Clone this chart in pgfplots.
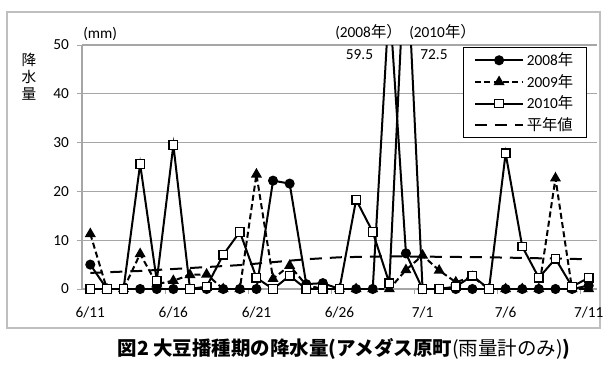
\documentclass[border=0pt]{standalone}
\usepackage{pgfplots}
\pgfplotsset{compat=1.18}
\usepackage{pgfplotstable}
\usepackage{fontspec}
\setmainfont{Carlito}
\newfontfamily\jp{Noto Sans CJK JP}
\definecolor{gridgray}{RGB}{166,166,166}
\definecolor{framegray}{RGB}{191,191,191}

\pgfplotstableread{
d y08 y09 y10
0 5.0 11.3 0
1 0 0 0
2 0 0 0
3 0 7.2 25.6
4 0 1.0 1.7
5 0 1.7 29.5
6 0 2.9 0
7 0 3.0 0.5
8 0 0 7.0
9 0 0 11.7
10 0 23.5 2.3
11 22.2 2.1 0
12 21.6 4.8 2.7
13 1.0 0.8 0
14 1.2 0 0
15 0 0 0
16 0 0 18.3
17 0 0 11.7
18 59.5 0 1.2
19 7.3 3.9 72.5
20 0 6.9 0
21 0 3.8 0
22 0 1.4 0.5
23 0 2.5 2.7
24 0 0 0
25 0 0 27.8
26 0 0 8.7
27 0 0 2.3
28 0 22.7 6.2
29 0 0 0.5
30 0.7 0 2.3
}\rain

\pgfplotstableread{
d n
0 3.3
3 3.7
6 4.3
9 4.9
11 5.5
13 6.1
15 6.5
18 6.7
21 6.6
24 6.5
27 6.3
30 6.1
}\normal

% image pixel (x, y from top) -> point
\def\P(#1,#2){({(#1)*0.75pt},{(372-(#2))*0.75pt})}

\begin{document}
\begin{tikzpicture}
\path[use as bounding box] \P(0,372) rectangle \P(606,0);
\draw[framegray, line width=0.9pt] \P(7,12) rectangle \P(600,328);
\begin{axis}[
  at={(67.725pt,62.25pt)}, anchor=origin,
  scale only axis, width=386.25pt, height=183pt,
  xmin=-0.5, xmax=30.5, ymin=0, ymax=50,
  axis lines*=left,
  axis line style={gridgray, line width=1pt},
  ytick={0,10,...,50},
  ymajorgrids,
  grid style={gridgray, line width=1pt},
  tick align=outside,
  major tick length=3.75pt,
  tick style={gridgray, line width=0.75pt},
  xtick={4.5,9.5,...,29.5},
  xticklabels={},
  extra x ticks={0,5,...,30},
  extra x tick labels={6/11,6/16,6/21,6/26,7/1,7/6,7/11},
  extra x tick style={major tick length=0pt, grid=none},
  /pgf/number format/assume math mode=true,
  tick label style={font=\fontsize{11.5}{13}\selectfont, black},
  yticklabel style={xshift=-2.5pt},
  xticklabel style={yshift=-10pt},
  legend style={at={(0.9806,0.9918)}, anchor=north east, draw=black, line width=0.75pt,
    font=\fontsize{11.5}{13}\selectfont, row sep=1pt, inner ysep=2pt, inner xsep=8pt},
  legend cell align=left,
  legend image code/.code={\draw[mark repeat=2,mark phase=2] plot coordinates {(0pt,0pt) (18pt,0pt) (36pt,0pt)};},
]
\addplot[black, line width=1.5pt, mark=*, mark size=3pt, mark options={solid}] table[x=d,y=y08] {\rain};
\addlegendentry{2008{\jp 年}}
\addplot[black, line width=1.5pt, dash pattern=on 4.5pt off 2.5pt, mark=triangle*, mark size=3.3pt, mark options={solid}] table[x=d,y=y09] {\rain};
\addlegendentry{2009{\jp 年}}
\addplot[black, line width=1.5pt, mark=square*, mark size=3.2pt, mark options={solid, fill=white, line width=1pt}] table[x=d,y=y10] {\rain};
\addlegendentry{2010{\jp 年}}
\addplot[black, line width=1.5pt, dash pattern=on 9pt off 6pt] table[x=d,y=n] {\normal};
\addlegendentry{{\jp 平年値}}
\end{axis}
\node[anchor=west, font=\fontsize{11.5}{13}\selectfont, inner sep=0pt] at \P(83,34) {(mm)};
\node[anchor=west, font=\fontsize{11.5}{13}\selectfont, inner sep=0pt] at \P(335,32) {(2008{\jp 年）}};
\node[anchor=west, font=\fontsize{11.5}{13}\selectfont, inner sep=0pt] at \P(409,32) {(2010{\jp 年）}};
\node[font=\fontsize{11.5}{13}\selectfont, inner sep=0pt] at \P(359.5,55) {59.5};
\node[font=\fontsize{11.5}{13}\selectfont, inner sep=0pt] at \P(434,55) {72.5};
\node[align=center, font=\jp\fontsize{11}{12.75}\selectfont, inner sep=0pt] at \P(29,77) {降\\水\\量};
\node[font=\jp\fontsize{14.6}{16}\selectfont] at \P(344,349) {\bfseries 図2 大豆播種期の降水量(アメダス原町{\mdseries(雨量計のみ)})};
\end{tikzpicture}
\end{document}
